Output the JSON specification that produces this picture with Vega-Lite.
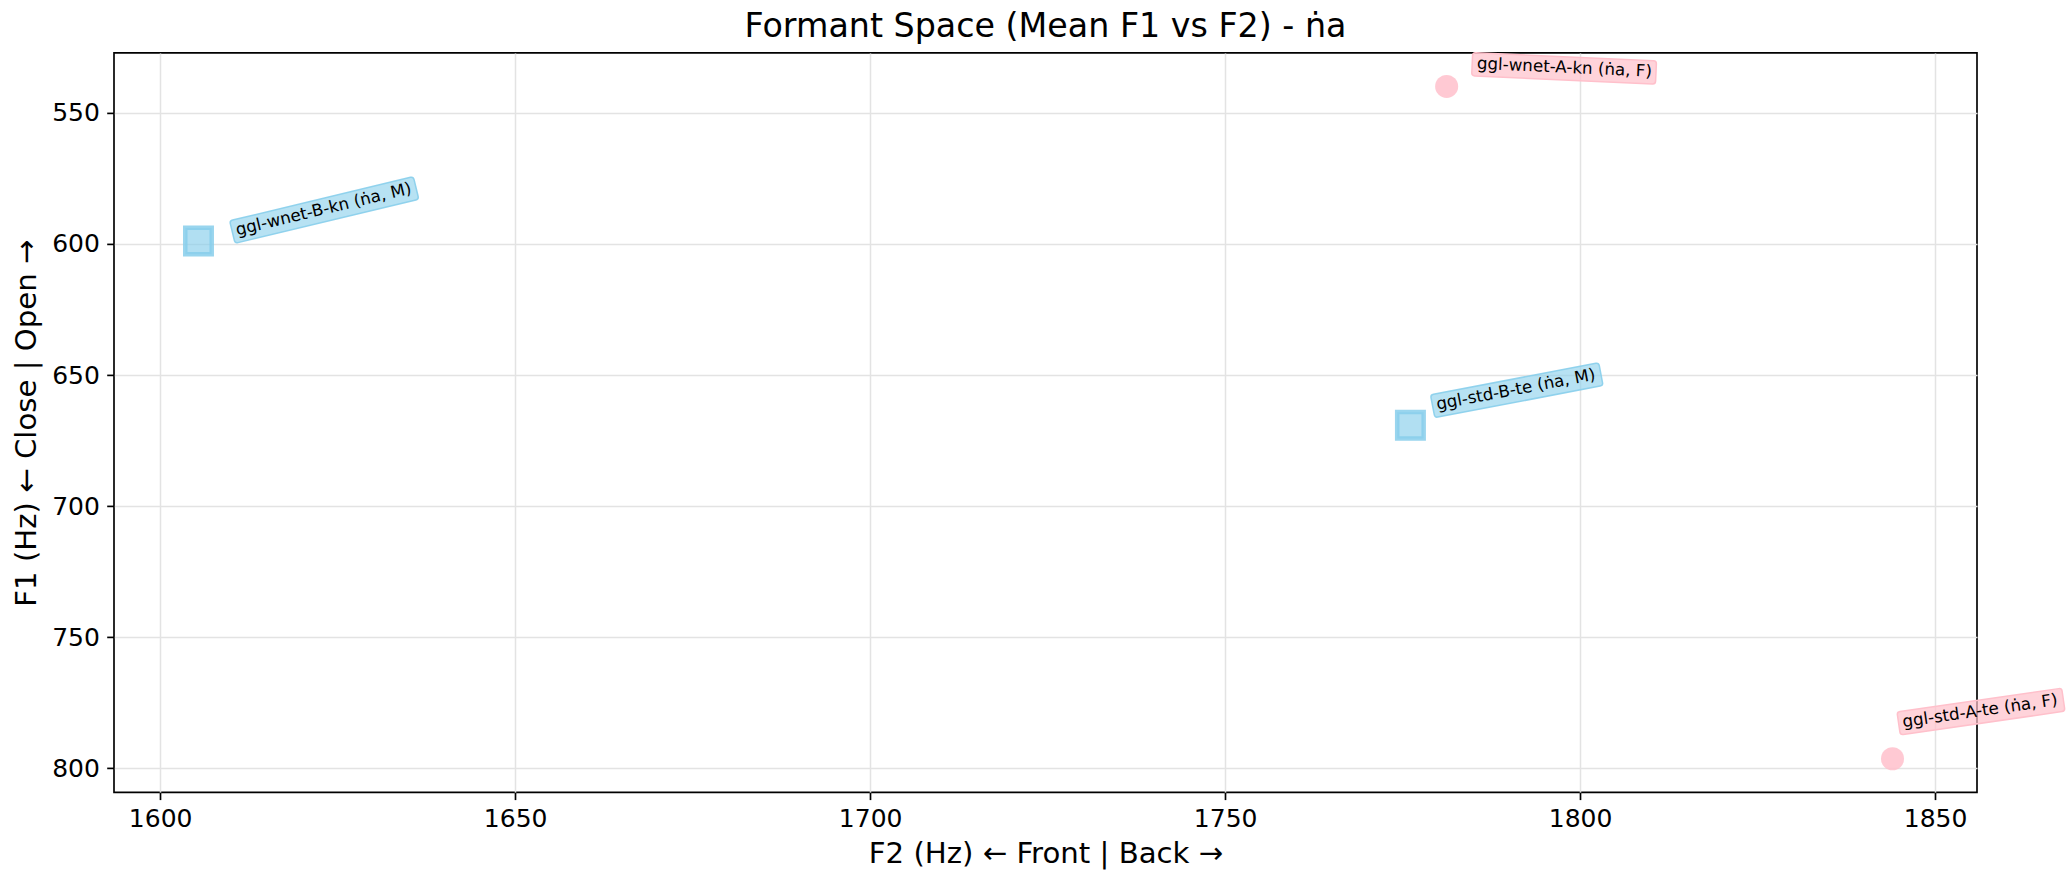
{
  "$schema": "https://vega.github.io/schema/vega-lite/v6.json",
  "width": 1863,
  "height": 739.4,
  "autosize": {"type": "none"},
  "padding": {"left": 114, "top": 52.9, "right": 95, "bottom": 90.7},
  "background": "white",
  "title": {
    "text": "Formant Space (Mean F1 vs F2) - ṅa",
    "fontSize": 33.3,
    "fontWeight": "normal",
    "color": "black",
    "anchor": "middle",
    "frame": "group",
    "baseline": "alphabetic",
    "offset": 12.5,
    "dy": 33
  },
  "config": {
    "font": "DejaVu Sans",
    "view": {"stroke": "black", "strokeWidth": 1.67},
    "axis": {
      "domain": false,
      "grid": true,
      "gridColor": "#e3e3e3",
      "gridWidth": 1.5,
      "ticks": true,
      "tickSize": 7.3,
      "tickWidth": 1.67,
      "tickColor": "black",
      "labelFontSize": 25,
      "labelColor": "black",
      "labelPadding": 7.3,
      "labelFlush": false,
      "labelOverlap": false,
      "format": "d",
      "titleFontSize": 29.2,
      "titleFontWeight": "normal",
      "titleColor": "black"
    }
  },
  "data": {
    "values": [
      {"speaker": "ggl-wnet-A-kn", "gender": "F", "label": "ggl-wnet-A-kn (ṅa, F)", "F2": 1781.2, "F1": 539.9},
      {"speaker": "ggl-wnet-B-kn", "gender": "M", "label": "ggl-wnet-B-kn (ṅa, M)", "F2": 1605.4, "F1": 598.9},
      {"speaker": "ggl-std-B-te", "gender": "M", "label": "ggl-std-B-te (ṅa, M)", "F2": 1776.1, "F1": 669.2},
      {"speaker": "ggl-std-A-te", "gender": "F", "label": "ggl-std-A-te (ṅa, F)", "F2": 1844.0, "F1": 796.4}
    ]
  },
  "encoding": {
    "x": {
      "field": "F2",
      "type": "quantitative",
      "scale": {"domain": [1593.5, 1855.9], "nice": false, "zero": false},
      "axis": {"title": "F2 (Hz) ← Front | Back →", "values": [1600, 1650, 1700, 1750, 1800, 1850], "titlePadding": 8}
    },
    "y": {
      "field": "F1",
      "type": "quantitative",
      "scale": {"domain": [527.1, 809.2], "nice": false, "zero": false, "reverse": true},
      "axis": {"title": "F1 (Hz) ← Close | Open →", "values": [550, 600, 650, 700, 750, 800], "titlePadding": 10}
    }
  },
  "layer": [
    {
      "transform": [{"filter": "datum.gender === 'F'"}],
      "mark": {"type": "point", "shape": "circle", "filled": true, "size": 531, "fill": "#FFC0CB", "fillOpacity": 0.85, "strokeWidth": 0}
    },
    {
      "transform": [{"filter": "datum.gender === 'M'"}],
      "mark": {"type": "point", "shape": "square", "filled": true, "size": 700, "fill": "#87CEEB", "fillOpacity": 0.65, "stroke": "#87CEEB", "strokeOpacity": 0.85, "strokeWidth": 4.5}
    },
    {
      "transform": [{"filter": "datum.speaker === 'ggl-wnet-B-kn'"}],
      "layer": [
        {"mark": {"type": "point", "filled": true, "size": 4, "angle": 346.5, "shape": "M 38 -12.5 L 221 -12.5 Q 224 -12.5 224 -9.5 L 224 7.7 Q 224 10.7 221 10.7 L 38 10.7 Q 35 10.7 35 7.7 L 35 -9.5 Q 35 -12.5 38 -12.5 Z", "fill": "#87CEEB", "fillOpacity": 0.6, "stroke": "#87CEEB", "strokeOpacity": 0.9, "strokeWidth": 1.5}},
        {"mark": {"type": "text", "align": "left", "baseline": "alphabetic", "angle": 346.5, "dx": 39, "dy": 3.5, "fontSize": 16.7, "color": "black"}, "encoding": {"text": {"field": "label"}}}
      ]
    },
    {
      "transform": [{"filter": "datum.speaker === 'ggl-std-B-te'"}],
      "layer": [
        {"mark": {"type": "point", "filled": true, "size": 4, "angle": 349.2, "shape": "M 28.4 -26.2 L 193.7 -26.2 Q 196.7 -26.2 196.7 -23.2 L 196.7 -6 Q 196.7 -3 193.7 -3 L 28.4 -3 Q 25.4 -3 25.4 -6 L 25.4 -23.2 Q 25.4 -26.2 28.4 -26.2 Z", "fill": "#87CEEB", "fillOpacity": 0.6, "stroke": "#87CEEB", "strokeOpacity": 0.9, "strokeWidth": 1.5}},
        {"mark": {"type": "text", "align": "left", "baseline": "alphabetic", "angle": 349.2, "dx": 29.4, "dy": -10.2, "fontSize": 16.7, "color": "black"}, "encoding": {"text": {"field": "label"}}}
      ]
    },
    {
      "transform": [{"filter": "datum.speaker === 'ggl-std-A-te'"}],
      "layer": [
        {"mark": {"type": "point", "filled": true, "size": 4, "angle": 351.8, "shape": "M 14.1 -45.7 L 174.5 -45.7 Q 177.5 -45.7 177.5 -42.7 L 177.5 -25.5 Q 177.5 -22.5 174.5 -22.5 L 14.1 -22.5 Q 11.1 -22.5 11.1 -25.5 L 11.1 -42.7 Q 11.1 -45.7 14.1 -45.7 Z", "fill": "#FFC0CB", "fillOpacity": 0.7, "stroke": "#FFC0CB", "strokeOpacity": 1, "strokeWidth": 1.5}},
        {"mark": {"type": "text", "align": "left", "baseline": "alphabetic", "angle": 351.8, "dx": 15.1, "dy": -29.7, "fontSize": 16.7, "color": "black"}, "encoding": {"text": {"field": "label"}}}
      ]
    },
    {
      "transform": [{"filter": "datum.speaker === 'ggl-wnet-A-kn'"}],
      "layer": [
        {"mark": {"type": "point", "filled": true, "size": 4, "angle": 2.6, "shape": "M 27.5 -35 L 205.5 -35 Q 208.5 -35 208.5 -32 L 208.5 -14.8 Q 208.5 -11.8 205.5 -11.8 L 27.5 -11.8 Q 24.5 -11.8 24.5 -14.8 L 24.5 -32 Q 24.5 -35 27.5 -35 Z", "fill": "#FFC0CB", "fillOpacity": 0.7, "stroke": "#FFC0CB", "strokeOpacity": 1, "strokeWidth": 1.5}},
        {"mark": {"type": "text", "align": "left", "baseline": "alphabetic", "angle": 2.6, "dx": 29.2, "dy": -19.0, "fontSize": 16.7, "color": "black"}, "encoding": {"text": {"field": "label"}}}
      ]
    }
  ]
}
